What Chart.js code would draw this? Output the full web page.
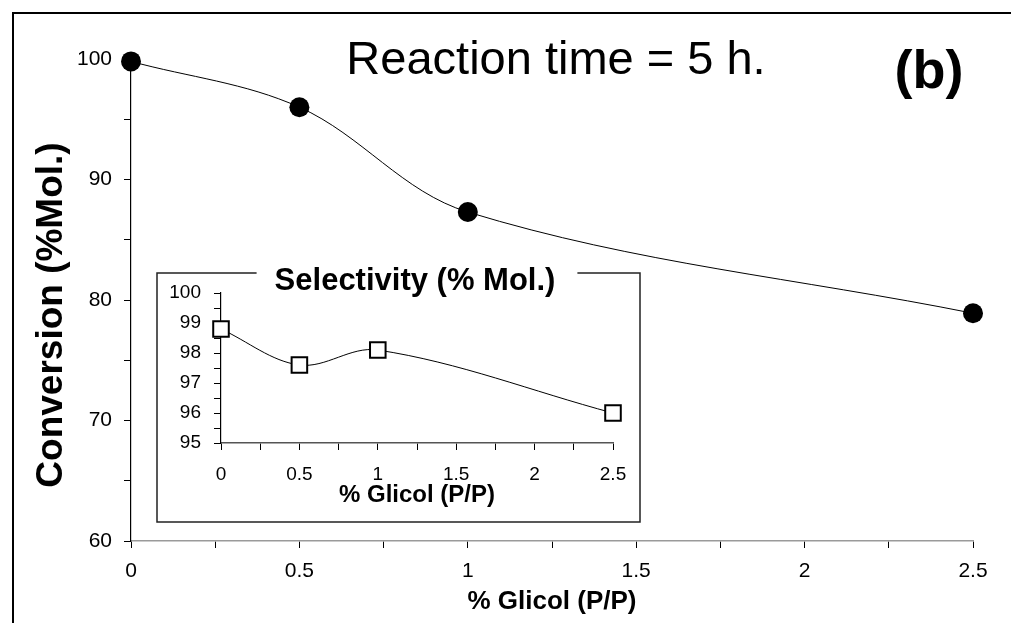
<!DOCTYPE html>
<html>
<head>
<meta charset="utf-8">
<script src="https://cdn.jsdelivr.net/npm/chart.js@4.4.1/dist/chart.umd.min.js"></script>
<style>
  html, body { margin: 0; padding: 0; background: #fff; }
  #wrap { position: relative; width: 1011px; height: 623px; overflow: hidden; }
  #frame { position: absolute; left: 12px; top: 12px; width: 1011px; height: 623px;
           border-top: 2px solid #000; border-left: 2px solid #000; }
  #main { position: absolute; left: 0; top: 0; }
  #inset { position: absolute; left: 155px; top: 258px; }
</style>
</head>
<body>
<div id="wrap">
  <div id="frame"></div>
  <canvas id="main" width="1011" height="623"></canvas>
  <canvas id="inset" width="488" height="267"></canvas>
</div>
<script>
// Glycol loading (% w/w) and measured results after 5 h of reaction
const glicol = [0, 0.5, 1, 2.5];
const conversion = [99.8, 96.0, 87.3, 78.9];
const selectivity = [98.8, 97.6, 98.1, 96.0];

const mainTitle = 'Reaction time = 5 h.';
const panelLabel = '(b)';
const convAxisTitle = 'Conversion (%Mol.)';
const glicolAxisTitle = '% Glicol (P/P)';
const selTitle = 'Selectivity (% Mol.)';

const FONT = "'Liberation Sans', Arial, sans-serif";
Chart.defaults.font.family = FONT;
Chart.defaults.color = '#000';

const toPoints = (xs, ys) => xs.map((x, i) => ({ x, y: ys[i] }));
const halfLabel = v => (Math.abs(v * 2 - Math.round(v * 2)) < 1e-9 ? String(v) : '');

// ---------- main chart: conversion ----------
const mainText = {
  id: 'mainText',
  afterDraw(chart) {
    const { ctx, chartArea: a } = chart;
    ctx.save();
    ctx.fillStyle = '#000';
    ctx.textAlign = 'center';
    ctx.textBaseline = 'alphabetic';
    ctx.font = `47px ${FONT}`;
    ctx.fillText(mainTitle, 556, 74);
    ctx.font = `bold 54px ${FONT}`;
    ctx.fillText(panelLabel, 929, 88);
    ctx.textBaseline = 'middle';
    ctx.font = `bold 26px ${FONT}`;
    ctx.fillText(glicolAxisTitle, (a.left + a.right) / 2, 602);
    ctx.translate(52, 315);
    ctx.rotate(-Math.PI / 2);
    ctx.font = `bold 37px ${FONT}`;
    ctx.fillText(convAxisTitle, 0, 0);
    ctx.restore();
  }
};

new Chart(document.getElementById('main'), {
  type: 'scatter',
  data: {
    datasets: [{
      data: toPoints(glicol, conversion),
      showLine: true,
      borderColor: '#000',
      borderWidth: 1,
      backgroundColor: '#000',
      pointBackgroundColor: '#000',
      pointBorderColor: '#000',
      pointRadius: 10,
      pointBorderWidth: 0,
      tension: 0.35,
      clip: false
    }]
  },
  options: {
    responsive: false,
    animation: false,
    events: [],
    layout: { padding: { left: 14, top: 59, right: 38, bottom: 0 } },
    plugins: { legend: { display: false }, tooltip: { enabled: false } },
    scales: {
      x: {
        type: 'linear', min: 0, max: 2.5,
        afterFit: s => { s.height = 82; },
        ticks: { stepSize: 0.25, autoSkip: false, maxRotation: 0, padding: 11,
                 font: { size: 21 }, color: '#000', callback: halfLabel },
        grid: { drawOnChartArea: false, drawTicks: true, tickLength: 7, color: '#000', lineWidth: 1 },
        border: { display: true, color: '#9a9a9a', width: 1.5 }
      },
      y: {
        type: 'linear', min: 60, max: 100,
        afterFit: s => { s.width = 117; },
        ticks: { stepSize: 5, autoSkip: false, padding: 12,
                 font: { size: 21 }, color: '#000',
                 callback: v => (v % 10 === 0 ? String(v) : '') },
        grid: { drawOnChartArea: false, drawTicks: true, tickLength: 7, color: '#000', lineWidth: 1 },
        border: { display: true, color: '#000', width: 1.2 }
      }
    }
  },
  plugins: [mainText]
});

// ---------- inset chart: selectivity ----------
const insetFrame = {
  id: 'insetFrame',
  afterDraw(chart) {
    const { ctx, chartArea: a } = chart;
    const L = 2, T = 15, R = 485, B = 264;
    const cx = (a.left + a.right) / 2;
    ctx.save();
    ctx.font = `bold 31px ${FONT}`;
    const tw = ctx.measureText(selTitle).width;
    const gapL = cx - tw / 2 - 20, gapR = cx + tw / 2 + 20;
    ctx.strokeStyle = '#222';
    ctx.lineWidth = 1.5;
    ctx.beginPath();
    ctx.moveTo(gapL, T); ctx.lineTo(L, T); ctx.lineTo(L, B); ctx.lineTo(R, B); ctx.lineTo(R, T); ctx.lineTo(gapR, T);
    ctx.stroke();
    ctx.fillStyle = '#000';
    ctx.textAlign = 'center';
    ctx.textBaseline = 'middle';
    ctx.fillText(selTitle, cx - 2, 23);
    ctx.font = `bold 24px ${FONT}`;
    ctx.fillText(glicolAxisTitle, cx, 237);
    ctx.restore();
  }
};

new Chart(document.getElementById('inset'), {
  type: 'scatter',
  data: {
    datasets: [{
      data: toPoints(glicol, selectivity),
      showLine: true,
      borderColor: '#000',
      borderWidth: 1,
      pointStyle: 'rect',
      pointRadius: 11,
      pointBorderWidth: 2,
      pointBorderColor: '#000',
      pointBackgroundColor: '#fff',
      backgroundColor: '#fff',
      tension: 0.35,
      clip: false
    }]
  },
  options: {
    responsive: false,
    animation: false,
    events: [],
    layout: { padding: { left: 8, top: 35, right: 30, bottom: 0 } },
    plugins: { legend: { display: false }, tooltip: { enabled: false } },
    scales: {
      x: {
        type: 'linear', min: 0, max: 2.5,
        afterFit: s => { s.height = 82; },
        ticks: { stepSize: 0.25, autoSkip: false, maxRotation: 0, padding: 13,
                 font: { size: 19 }, color: '#000', callback: halfLabel },
        grid: { drawOnChartArea: false, drawTicks: true, tickLength: 7, color: '#000', lineWidth: 1 },
        border: { display: true, color: '#555', width: 1.5 }
      },
      y: {
        type: 'linear', min: 95, max: 100,
        afterFit: s => { s.width = 58; },
        ticks: { stepSize: 0.5, autoSkip: false, padding: 13,
                 font: { size: 19 }, color: '#000',
                 callback: v => (Number.isInteger(v) ? String(v) : '') },
        grid: { drawOnChartArea: false, drawTicks: true, tickLength: 7, color: '#000', lineWidth: 1 },
        border: { display: true, color: '#000', width: 1.2 }
      }
    }
  },
  plugins: [insetFrame]
});
</script>
</body>
</html>
